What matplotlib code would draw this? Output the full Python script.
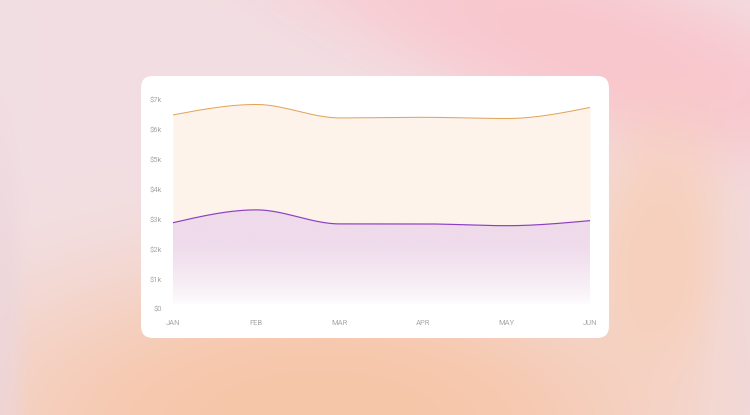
import numpy as np
import matplotlib.pyplot as plt
from matplotlib.patches import FancyBboxPatch, Polygon
from matplotlib.colors import to_rgb

plt.rcParams['font.family'] = ['Roboto', 'DejaVu Sans']

# Data (values in $k)
months = ['JAN', 'FEB', 'MAR', 'APR', 'MAY', 'JUN']
orange_vals = [6.50, 6.85, 6.40, 6.42, 6.38, 6.75]
purple_vals = [2.89, 3.32, 2.85, 2.85, 2.79, 2.96]
y_ticks = [0, 1, 2, 3, 4, 5, 6, 7]
y_labels = ['$0', '$1k', '$2k', '$3k', '$4k', '$5k', '$6k', '$7k']

ORANGE = '#e3a45c'
PURPLE = '#8c3fc4'
CREAM = '#fdf3ea'
LAVENDER = '#efdbeb'
TICK = '#a8a8a8'


def monotone_curve(x, y, n=40):
    # monotone cubic (d3 curveMonotoneX style) for drawing the smooth line
    x = np.asarray(x, float)
    y = np.asarray(y, float)
    h = np.diff(x)
    s = np.diff(y) / h
    t = np.zeros(len(x))
    for i in range(1, len(x) - 1):
        p = (s[i - 1] * h[i] + s[i] * h[i - 1]) / (h[i - 1] + h[i])
        t[i] = (np.sign(s[i - 1]) + np.sign(s[i])) * min(abs(s[i - 1]), abs(s[i]), 0.5 * abs(p))
    t[0] = (3 * s[0] - t[1]) / 2
    t[-1] = (3 * s[-1] - t[-2]) / 2
    xs, ys = [], []
    for i in range(len(x) - 1):
        u = np.linspace(0, 1, n, endpoint=(i == len(x) - 2))
        h00 = 2 * u**3 - 3 * u**2 + 1
        h10 = u**3 - 2 * u**2 + u
        h01 = -2 * u**3 + 3 * u**2
        h11 = u**3 - u**2
        xs.append(x[i] + u * h[i])
        ys.append(h00 * y[i] + h10 * h[i] * t[i] + h01 * y[i + 1] + h11 * h[i] * t[i + 1])
    return np.concatenate(xs), np.concatenate(ys)


W, H = 750, 415
fig = plt.figure(figsize=(W / 100, H / 100), dpi=100)

# pastel background
bg = fig.add_axes([0, 0, 1, 1])
gx, gy = np.meshgrid(np.arange(W), np.arange(H))
img = np.ones((H, W, 3)) * np.array(to_rgb('#f2dfe3'))


def blob(cx, cy, sx, sy, color, k=1.0, ang=0.0):
    global img
    c, s = np.cos(np.radians(ang)), np.sin(np.radians(ang))
    dx, dy = gx - cx, gy - cy
    u = dx * c + dy * s
    v = -dx * s + dy * c
    a = k * np.exp(-((u / sx) ** 2 + (v / sy) ** 2) ** 1.5)
    img = img * (1 - a[..., None]) + np.array(to_rgb(color)) * a[..., None]


blob(600, 50, 340, 85, '#f9c6cd', 0.95, 18)
blob(320, 430, 370, 175, '#f7c6a8', 1.0)
blob(660, 250, 75, 130, '#f8cdb4', 0.8)
blob(0, 330, 22, 200, '#ecd6dc', 0.7)
blob(750, 330, 40, 150, '#f1d8d6', 0.6)
bg.imshow(img, extent=[0, W, H, 0], aspect='auto')
bg.set_xlim(0, W)
bg.set_ylim(H, 0)
bg.axis('off')

card = FancyBboxPatch((141 + 12, 76 + 12), 468 - 24, 262 - 24,
                      boxstyle='round,pad=12', facecolor='white', edgecolor='none')
bg.add_patch(card)

# chart area
ax = fig.add_axes([173 / W, (H - 309) / H, 417 / W, 209 / H])
ax.patch.set_alpha(0)
xi = np.arange(len(months))
ox, oy = monotone_curve(xi, orange_vals)
px, py = monotone_curve(xi, purple_vals)

ax.fill_between(ox, py, oy, color=CREAM, lw=0, zorder=1)

# gradient under the purple line
ymax = max(purple_vals) + 0.1
tt = np.linspace(0, 1, 256)[:, None]
a = np.clip((tt - 0.04) / 0.6, 0, 1) ** 0.7
grad = np.ones((256, 2, 3)) * (1 - a[..., None]) + np.array(to_rgb(LAVENDER)) * a[..., None]
im = ax.imshow(grad, extent=[0, len(months) - 1, 0, ymax], origin='lower', aspect='auto', zorder=1)
poly = Polygon(np.column_stack([np.r_[px, px[::-1]], np.r_[py, np.zeros_like(py)]]),
               closed=True, transform=ax.transData, facecolor='none', edgecolor='none')
ax.add_patch(poly)
im.set_clip_path(poly)

ax.plot(ox, oy, color=ORANGE, lw=0.75, zorder=3)
ax.plot(px, py, color=PURPLE, lw=0.85, zorder=3)

ax.set_xlim(0, len(months) - 1)
ax.set_ylim(0, 7)
ax.set_xticks(xi)
ax.set_xticklabels(months)
ax.set_yticks(y_ticks)
ax.set_yticklabels(y_labels)
ax.tick_params(length=0, labelsize=5.5, colors=TICK)
ax.tick_params(axis='x', pad=8)
ax.tick_params(axis='y', pad=8)
for sp in ax.spines.values():
    sp.set_visible(False)

fig.savefig('out.png', dpi=100)
